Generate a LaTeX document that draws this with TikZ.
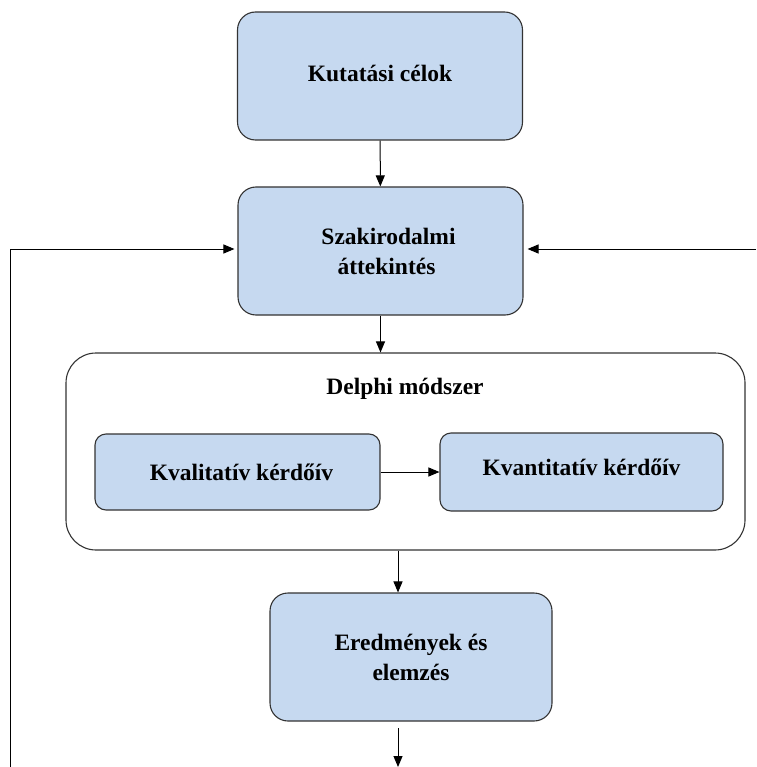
\documentclass[tikz,border=0pt]{standalone}
\usepackage{fontspec}
\setmainfont{Liberation Serif}
\usetikzlibrary{arrows.meta}
\definecolor{boxfill}{HTML}{C6D9F0}
\definecolor{edgecol}{HTML}{333333}
\begin{document}
\begin{tikzpicture}[x=1pt,y=-1pt,
  box/.style={draw=edgecol, fill=boxfill, line width=1.1pt, rounded corners=18pt,
    align=center, font=\fontsize{23.5}{30}\selectfont\bfseries, inner sep=0pt},
  smallbox/.style={box, rounded corners=11pt},
  container/.style={draw=edgecol, line width=1.1pt, rounded corners=30pt, inner sep=0pt},
  lbl/.style={font=\fontsize{23.5}{30}\selectfont\bfseries, inner sep=0pt},
  conn/.style={draw=black, line width=1pt, -{Triangle[length=11pt,width=9pt]}}]
\useasboundingbox (0,0) rectangle (756,767);
\node[box, minimum width=285pt, minimum height=128pt] (k1) at (380,76) {Kutatási célok\vphantom{g}};
\node[box, minimum width=285pt, minimum height=128pt] (k2) at (380.5,251) {\hspace*{16pt}Szakirodalmi\\\hspace*{12pt}áttekintés};
\node[container, minimum width=679pt, minimum height=197pt] (dm) at (405.5,451.5) {};
\node[lbl] (dl) at (405,389) {Delphi módszer};
\node[smallbox, minimum width=285pt, minimum height=76pt] (q1) at (237.5,472) {\hspace*{8pt}Kvalitatív kérdőív};
\node[smallbox, minimum width=283pt, minimum height=78pt] (q2) at (581.5,472) {Kvantitatív kérdőív\\[-20pt]\mbox{}};
\node[box, minimum width=282pt, minimum height=128pt] (e) at (411,657) {Eredmények és\\elemzés};
\coordinate (ax) at (398,0);
\coordinate (bs) at (398,728);
\coordinate (be) at (398,767);
\coordinate (lb) at (10,767);
\coordinate (rs) at (756,249);
\draw[conn] (k1) -- (k2);
\draw[conn] (k2.south) -- (k2.south |- dm.north);
\draw[conn] (q1) -- (q2);
\draw[conn] (ax |- dm.south) -- (ax |- e.north);
\draw[conn] (bs) -- (be);
\draw[conn] (lb) |- ([xshift=-3pt,yshift=2pt]k2.west);
\draw[conn] (rs) -- ([xshift=4pt,yshift=2pt]k2.east);
\end{tikzpicture}
\end{document}
